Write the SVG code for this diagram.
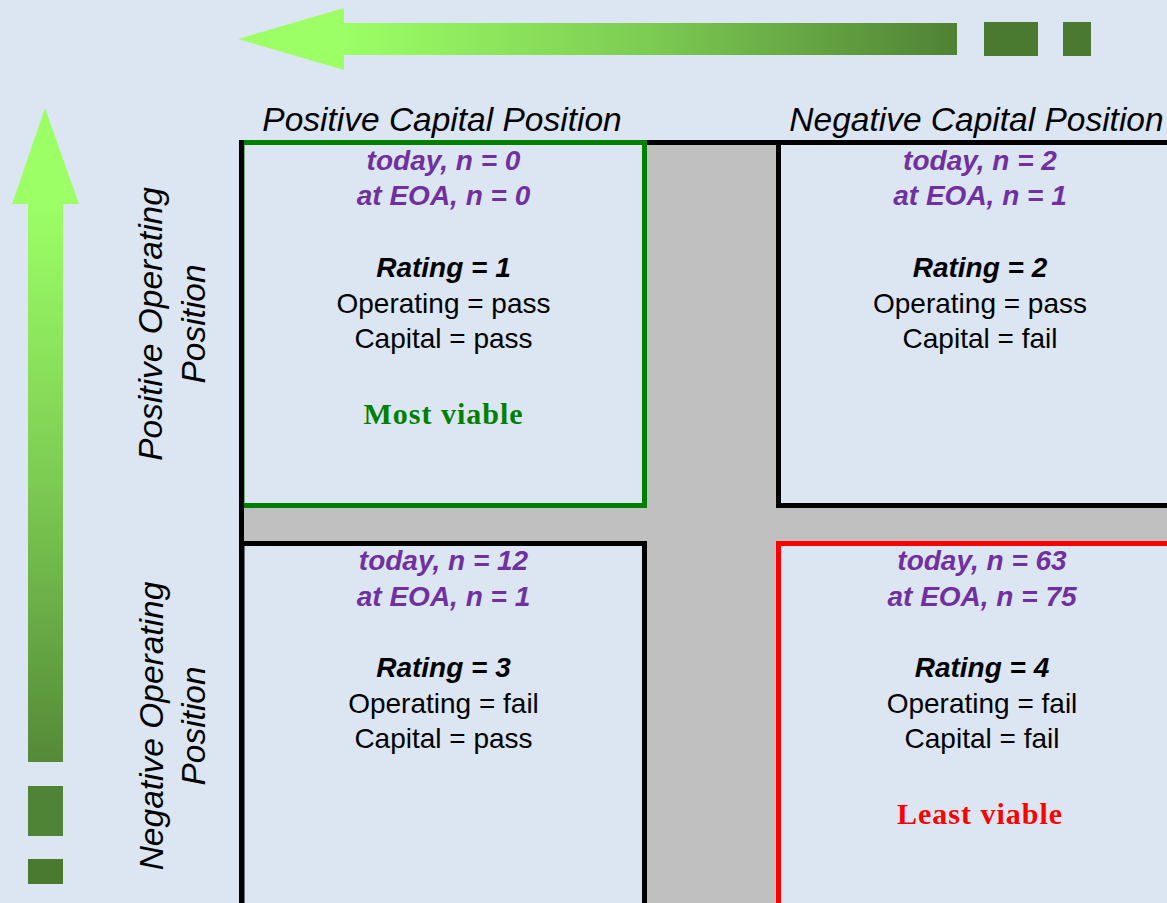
<svg xmlns="http://www.w3.org/2000/svg" width="1167" height="903" viewBox="0 0 1167 903">
<defs>
<linearGradient id="gH" gradientUnits="userSpaceOnUse" x1="344" y1="0" x2="957" y2="0">
<stop offset="0" stop-color="#9CFF66"/><stop offset="0.5" stop-color="#7CCB52"/><stop offset="1" stop-color="#4F8234"/>
</linearGradient>
<linearGradient id="gV" gradientUnits="userSpaceOnUse" x1="0" y1="204" x2="0" y2="762">
<stop offset="0" stop-color="#9CFF66"/><stop offset="0.5" stop-color="#7CCB52"/><stop offset="1" stop-color="#558A38"/>
</linearGradient>
<style>
.hdr{font-family:"Liberation Sans",Arial,sans-serif;font-size:33.5px;font-style:italic;fill:#000;text-anchor:middle}
.cnt{font-family:"Liberation Sans",Arial,sans-serif;font-size:28px;font-weight:bold;font-style:italic;fill:#7030A0;text-anchor:middle}
.rat{font-family:"Liberation Sans",Arial,sans-serif;font-size:28px;font-weight:bold;font-style:italic;fill:#000;text-anchor:middle}
.txt{font-family:"Liberation Sans",Arial,sans-serif;font-size:28px;fill:#000;text-anchor:middle}
.via{font-family:"Liberation Serif","Times New Roman",serif;font-size:30px;font-weight:bold;letter-spacing:1px;text-anchor:middle}
.box{fill:none;stroke-width:5}
.sq{fill:#4A7A30}
</style>
</defs>
<rect x="0" y="0" width="1167" height="903" fill="#DCE6F2"/>
<g id="arrows">
<polygon points="238,39 344,8 344,23 957,23 957,55 344,55 344,70" fill="url(#gH)"/>
<rect class="sq" x="984" y="22" width="54" height="34"/>
<rect class="sq" x="1063" y="22" width="28" height="34"/>
<polygon points="45,108 79,204 63,204 63,762 28,762 28,204 12,204" fill="url(#gV)"/>
<rect x="28" y="786" width="35" height="50" fill="#4F8335"/>
<rect class="sq" x="28" y="859" width="35" height="25"/>
</g>
<g id="grid">
<rect x="644.5" y="142.5" width="134" height="761" fill="#C0C0C0"/>
<rect x="242" y="505.5" width="925" height="38" fill="#C0C0C0"/>
<line x1="640" y1="142.5" x2="1167" y2="142.5" stroke="#000" stroke-width="5"/>
</g>
<g id="headers">
<text class="hdr" x="442" y="131">Positive Capital Position</text>
<text class="hdr" x="976.5" y="131">Negative Capital Position</text>
<text class="hdr" transform="translate(162,324) rotate(-90)">Positive Operating</text>
<text class="hdr" transform="translate(205,324) rotate(-90)">Position</text>
<text class="hdr" transform="translate(163,726) rotate(-90)">Negative Operating</text>
<text class="hdr" transform="translate(205,726) rotate(-90)">Position</text>
</g>
<g id="box1">
<rect class="box" x="242" y="142.5" width="402.5" height="363" stroke="#008000"/>
<text class="cnt" x="443.5" y="170">today, n = 0</text>
<text class="cnt" x="443.5" y="205">at EOA, n = 0</text>
<text class="rat" x="443.5" y="277">Rating = 1</text>
<text class="txt" x="443.5" y="313">Operating = pass</text>
<text class="txt" x="443.5" y="348">Capital = pass</text>
<text class="via" x="443.5" y="424" fill="#008000">Most viable</text>
</g>
<g id="box2">
<rect class="box" x="778.5" y="142.5" width="410" height="363" stroke="#000"/>
<text class="cnt" x="980" y="170">today, n = 2</text>
<text class="cnt" x="980" y="205">at EOA, n = 1</text>
<text class="rat" x="980" y="277">Rating = 2</text>
<text class="txt" x="980" y="313">Operating = pass</text>
<text class="txt" x="980" y="348">Capital = fail</text>
</g>
<g id="box3">
<rect class="box" x="242" y="543.5" width="402.5" height="400" stroke="#000"/>
<text class="cnt" x="443.5" y="570">today, n = 12</text>
<text class="cnt" x="443.5" y="606">at EOA, n = 1</text>
<text class="rat" x="443.5" y="677">Rating = 3</text>
<text class="txt" x="443.5" y="713">Operating = fail</text>
<text class="txt" x="443.5" y="748">Capital = pass</text>
</g>
<g id="box4">
<rect class="box" x="778.5" y="543.5" width="410" height="400" stroke="#FF0000"/>
<text class="cnt" x="982" y="570">today, n = 63</text>
<text class="cnt" x="982" y="606">at EOA, n = 75</text>
<text class="rat" x="982" y="677">Rating = 4</text>
<text class="txt" x="982" y="713">Operating = fail</text>
<text class="txt" x="982" y="748">Capital = fail</text>
<text class="via" x="980" y="824" fill="#FF0000">Least viable</text>
</g>
<line x1="241.5" y1="140" x2="241.5" y2="903" stroke="#000" stroke-width="5"/>
</svg>
